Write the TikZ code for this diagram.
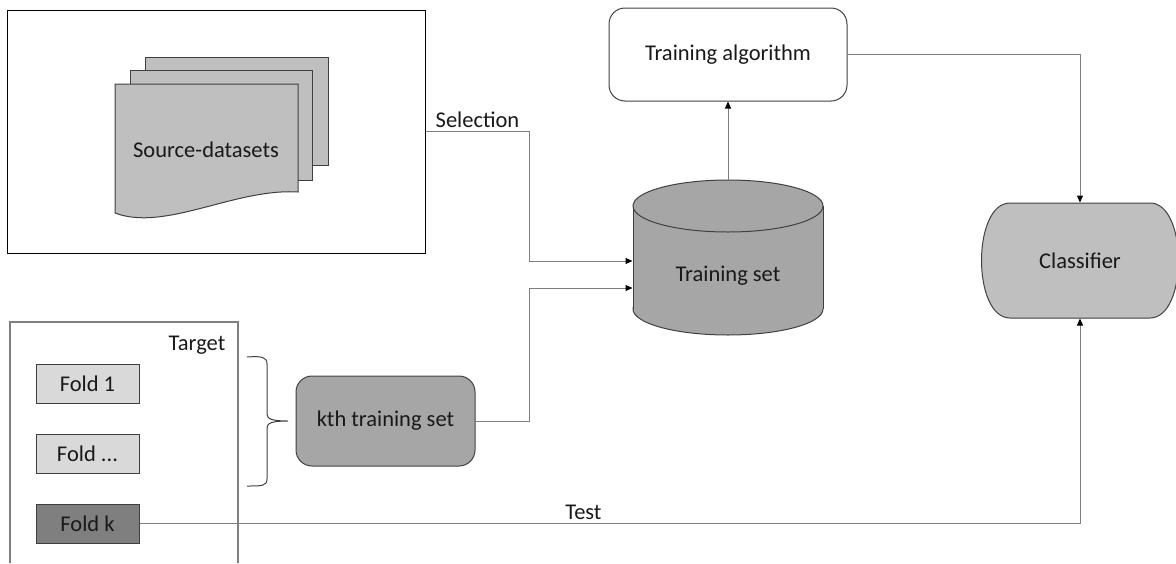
\documentclass[tikz,border=0pt]{standalone}
\usepackage{fontspec}
\setmainfont{Carlito}
\usetikzlibrary{arrows.meta}
\definecolor{docgray}{HTML}{BFBFBF}
\definecolor{midgray}{HTML}{A6A6A6}
\definecolor{foldlight}{HTML}{D9D9D9}
\definecolor{folddark}{HTML}{7F7F7F}
\definecolor{edgegray}{HTML}{404040}
\definecolor{linegray}{HTML}{7F7F7F}

\begin{document}
\begin{tikzpicture}[x=1pt,y=-1pt,line width=1pt]
      \tikzstyle{every node}=[node distance=70pt,font=\fontsize{22.5}{27}\selectfont,text=black!90]
      \tikzstyle{fold}=[draw=edgegray,minimum width=103pt,minimum height=39pt,inner sep=0pt]
      \tikzstyle{rbox}=[draw=edgegray,rounded corners=16pt]
      \tikzstyle{conn}=[draw=linegray,-{Triangle[length=7pt,width=6pt,color=black]}]
      \tikzstyle{page}=[fill=docgray,draw=edgegray]
      \useasboundingbox (0,0) rectangle (1176,563);
      % 
      \node [draw=black,minimum width=418pt,minimum height=243pt] (srcbox) at (216,131.5) {};
      \filldraw [page] (145,57) rectangle (328,165);
      \filldraw [page] (130,70) rectangle (312,180);
      \filldraw [page] (115,84) -- (298,84) -- (298,192)
            .. controls (235,188) and (165,232) .. (115,213) -- cycle;
      \node (src) at (206,150) {Source-datasets};
      % 
      \draw [draw=linegray,line width=1.5pt] (10,563) -- (10,322) -- (238,322) -- (238,563);
      \node (target) at (197,345) {Target};
      \node [fold,fill=foldlight] (fold1) at (87.5,383.5) {Fold 1};
      \node [fold,fill=foldlight] (folddots) [below of=fold1] {Fold ...};
      \node [fold,fill=folddark] (foldk) [below of=folddots] {Fold k};
      \draw [edgegray] (247,357) .. controls (262,356) and (267,357) .. (267,364) -- (267,414)
            .. controls (267,419) and (272,421) .. (288,421)
            .. controls (272,421) and (267,423) .. (267,428) -- (267,479)
            .. controls (267,486) and (262,486) .. (247,486);
      \node [rbox,fill=midgray,minimum width=179pt,minimum height=90pt] (kth) at (385.5,421) {kth training set};
      % 
      \filldraw [fill=midgray,draw=edgegray] (728,309) ellipse (95pt and 26pt);
      \fill [midgray] (633,206) rectangle (823,309);
      \draw [edgegray] (633,206) -- (633,309) (823,206) -- (823,309);
      \filldraw [fill=midgray,draw=edgegray] (728,206) ellipse (95pt and 26pt);
      \node [minimum width=190pt,minimum height=155pt] (trainset) at (728,257.5) {};
      \node (trainsettext) at (728,276) {Training set};
      % 
      \node [rbox,fill=white,minimum width=238pt,minimum height=93pt] (trainalg) at (728,54.5) {Training algorithm};
      % 
      \filldraw [page] (1010,203) -- (1150,203) .. controls (1188,203) and (1188,318) .. (1150,318)
            -- (1010,318) .. controls (972,318) and (972,203) .. (1010,203) -- cycle;
      \node [minimum width=196pt,minimum height=115pt] (classifier) at (1080,260.5) {Classifier};
      % 
      \draw [conn] (srcbox.east) -- node [above] (sel) {Selection} ++(104,0) |- ([yshift=-3.5pt]trainset.west);
      \draw [conn] (kth.east) -- ++(54,0) |- ([yshift=-30.5pt]trainset.west);
      \draw [conn] (trainset.north) -- (trainalg.south);
      \draw [conn] (trainalg.east) -| (classifier.north);
      \draw [conn] (foldk.east) -| node [above,pos=0.236] (test) {Test} (classifier.south);
\end{tikzpicture}
\end{document}
